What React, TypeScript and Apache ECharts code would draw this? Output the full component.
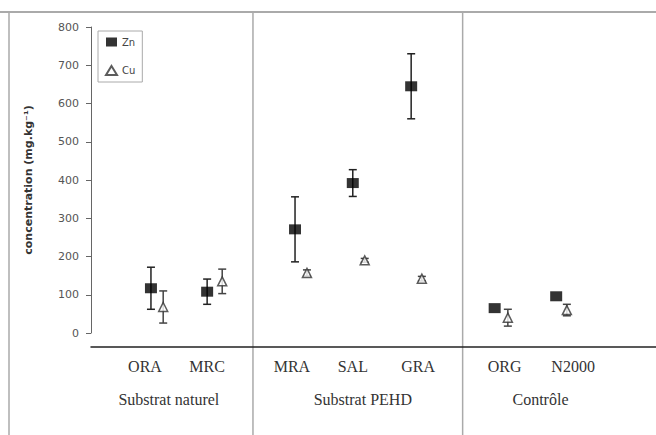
import React, { useEffect, useRef } from "react";
import * as echarts from "echarts";

const categories = ["ORA", "MRC", "MRA", "SAL", "GRA", "ORG", "N2000"];
const labelPos = [0.86, 1.85, 3.2, 4.17, 5.21, 6.59, 7.68];
const znPos = [0.955, 1.85, 3.25, 4.17, 5.1, 6.43, 7.41];
const cuPos = [1.15, 2.09, 3.44, 4.36, 5.27, 6.64, 7.58];
const znValues = [117, 108, 271, 392, 645, 65, 96];
const znErr = [55, 33, 85, 35, 85, 0, 0];
const cuValues = [68, 135, 157, 190, 142, 40, 60];
const cuErr = [42, 32, 8, 5, 6, 22, 15];
const groupNames = ["Substrat naturel", "Substrat PEHD", "Contrôle"];
const groupPos = [1.24, 4.33, 7.16];
const separatorPos = [2.58, 5.92];
const yTicks = { min: 0, max: 800, interval: 100 };

function errorSeries(name: string, pos: number[], vals: number[], errs: number[], color: string) {
  const data = pos
    .map((x, i) => [x, vals[i] - errs[i], vals[i] + errs[i]])
    .filter((_, i) => errs[i] > 0);
  return {
    type: "custom",
    name: name + "_err",
    coordinateSystem: "cartesian2d",
    encode: { x: 0, y: [1, 2] },
    z: 1,
    silent: true,
    renderItem: (_params: any, api: any) => {
      const lo = api.coord([api.value(0), api.value(1)]);
      const hi = api.coord([api.value(0), api.value(2)]);
      const w = 4;
      const style = { stroke: color, lineWidth: 1.5 };
      return {
        type: "group",
        children: [
          { type: "line", shape: { x1: lo[0], y1: lo[1], x2: hi[0], y2: hi[1] }, style },
          { type: "line", shape: { x1: lo[0] - w, y1: lo[1], x2: lo[0] + w, y2: lo[1] }, style },
          { type: "line", shape: { x1: hi[0] - w, y1: hi[1], x2: hi[0] + w, y2: hi[1] }, style },
        ],
      };
    },
    data,
  };
}

export default function App() {
  const ref = useRef<HTMLDivElement>(null);
  useEffect(() => {
    document.body.style.margin = "0";
    const chart = echarts.init(ref.current!, null, { renderer: "svg" });
    const option: any = {
      animation: false,
      backgroundColor: "#ffffff",
      grid: { left: 91, right: 0, top: 27, bottom: 102 },
      legend: {
        data: [
          { name: "Zn", icon: "rect" },
          { name: "Cu", icon: "triangle" },
        ],
        orient: "vertical",
        left: 98,
        top: 31,
        borderColor: "#aaa",
        borderWidth: 1,
        padding: [6, 7],
        itemWidth: 11,
        itemHeight: 9,
        itemGap: 18,
        textStyle: { fontSize: 10, color: "#444", fontFamily: "DejaVu Sans" },
      },
      xAxis: {
        type: "value",
        min: 0,
        max: 9,
        offset: 14,
        splitLine: { show: false },
        axisTick: { show: false },
        axisLine: { show: true, onZero: false, lineStyle: { color: "#222", width: 1.5 } },
        axisLabel: {
          customValues: labelPos,
          margin: 11,
          fontSize: 16,
          color: "#333",
          fontFamily: "Liberation Serif",
          formatter: (v: number) => {
            let best = 0;
            labelPos.forEach((p, i) => {
              if (Math.abs(p - v) < Math.abs(labelPos[best] - v)) best = i;
            });
            return categories[best];
          },
        },
      },
      yAxis: {
        type: "value",
        min: yTicks.min,
        max: yTicks.max,
        interval: yTicks.interval,
        splitLine: { show: false },
        axisLine: { show: true, lineStyle: { color: "#666", width: 1 } },
        axisTick: { show: true, length: 5, lineStyle: { color: "#666" } },
        axisLabel: { fontSize: 11, color: "#555", margin: 12, fontFamily: "DejaVu Sans" },
        name: "concentration (mg.kg⁻¹)",
        nameLocation: "middle",
        nameGap: 57,
        nameTextStyle: { fontSize: 11, fontWeight: "bold", color: "#333", fontFamily: "DejaVu Sans" },
      },
      series: [
        errorSeries("Zn", znPos, znValues, znErr, "#222"),
        errorSeries("Cu", cuPos, cuValues, cuErr, "#444"),
        {
          type: "scatter",
          name: "Zn",
          symbol: "rect",
          symbolSize: [12, 10],
          z: 3,
          itemStyle: { color: "#000" },
          data: znPos.map((x, i) => [x, znValues[i]]),
        },
        {
          type: "scatter",
          name: "Cu",
          symbol: "triangle",
          symbolSize: 9,
          z: 3,
          itemStyle: { color: "#fff", borderColor: "#333", borderWidth: 1.5 },
          data: cuPos.map((x, i) => [x, cuValues[i]]),
        },
      ],
    };
    chart.setOption(option);

    const lineStyle = { stroke: "#aaa", lineWidth: 1.5 };
    const graphics: any[] = [
      { type: "line", shape: { x1: 0, y1: 12, x2: 656, y2: 12 }, style: { stroke: "#aaa", lineWidth: 2 } },
      { type: "line", shape: { x1: 9, y1: 12, x2: 9, y2: 435 }, style: lineStyle },
    ];
    separatorPos.forEach((p) => {
      const px = chart.convertToPixel({ xAxisIndex: 0 }, p) as number;
      graphics.push({ type: "line", shape: { x1: px, y1: 12, x2: px, y2: 435 }, style: lineStyle });
    });
    groupNames.forEach((n, i) => {
      const px = chart.convertToPixel({ xAxisIndex: 0 }, groupPos[i]) as number;
      graphics.push({
        type: "text",
        x: px,
        y: 399,
        style: {
          text: n,
          fontSize: 16,
          fill: "#333",
          fontFamily: "Liberation Serif",
          align: "center",
          verticalAlign: "middle",
        },
      });
    });
    chart.setOption({ graphic: graphics });
    return () => chart.dispose();
  }, []);
  return <div ref={ref} style={{ width: 656, height: 435 }} />;
}
